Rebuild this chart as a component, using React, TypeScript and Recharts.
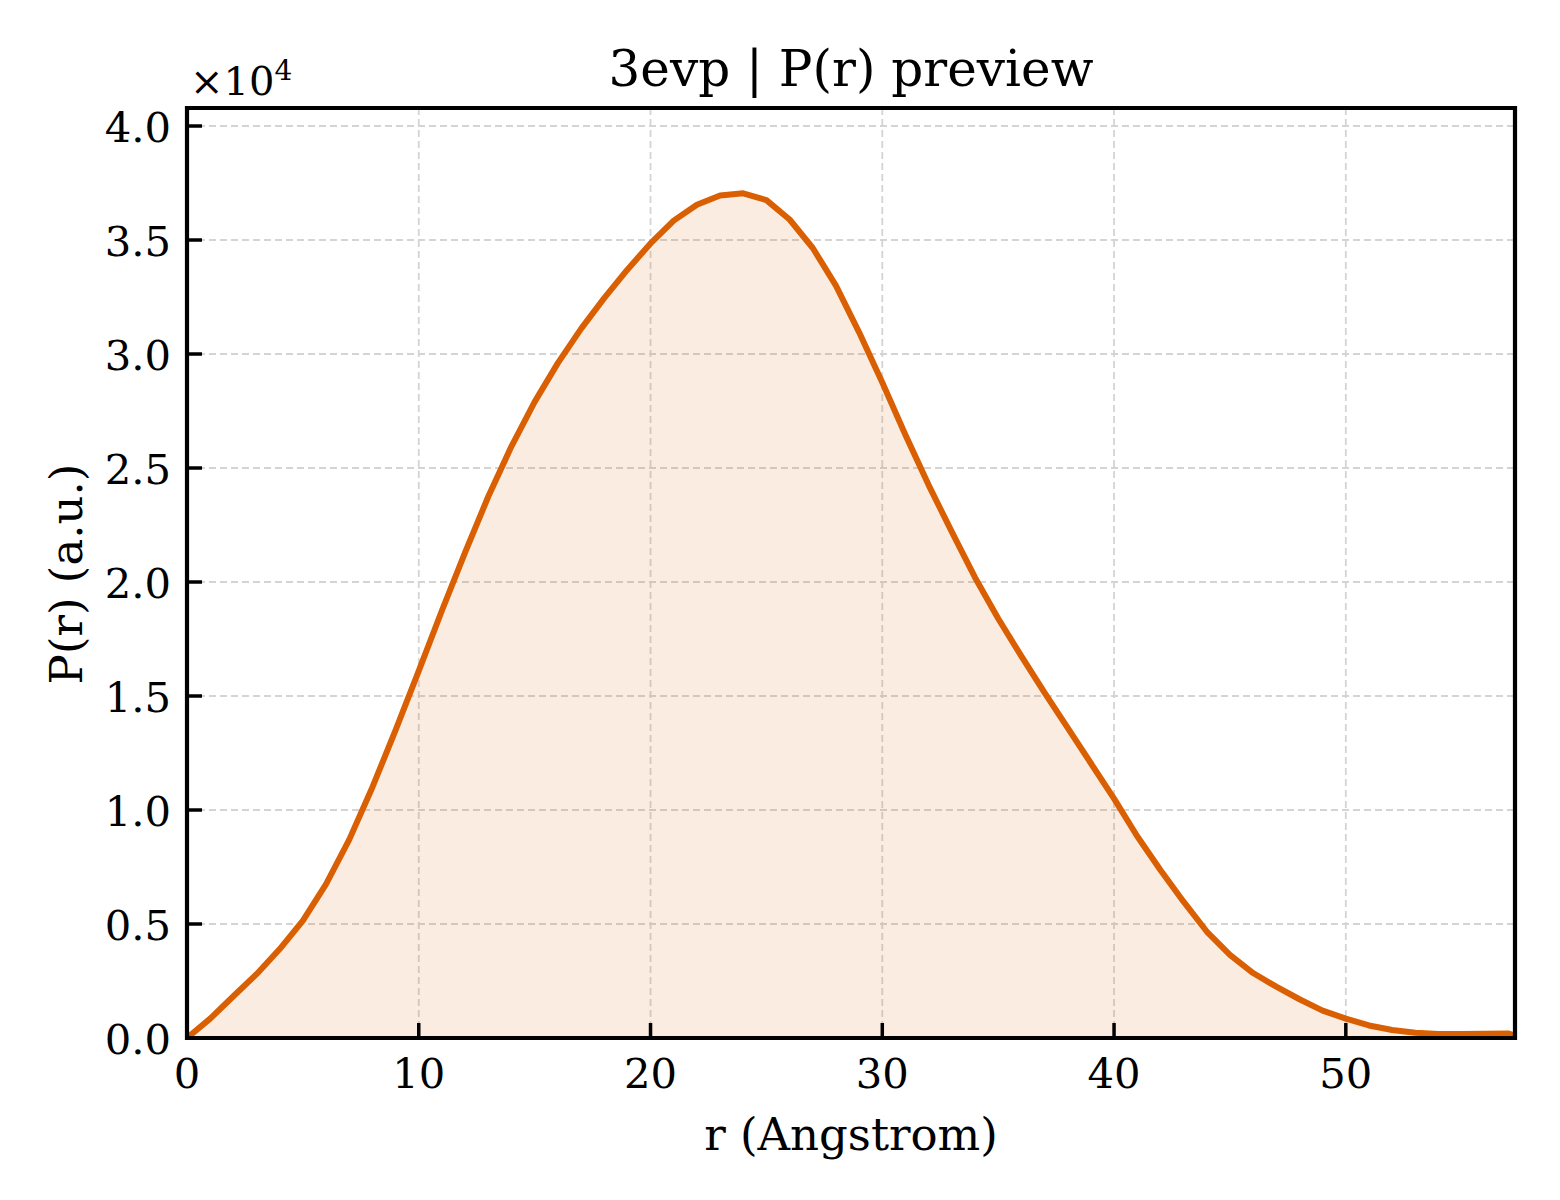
import React from 'react';
import {
  ComposedChart,
  Area,
  XAxis,
  YAxis,
  CartesianGrid,
  ReferenceArea,
} from 'recharts';

// r in Angstrom
const rValues = [
  0, 1, 2, 3, 4, 5, 6, 7, 8, 9, 10, 11, 12, 13, 14, 15, 16, 17, 18, 19, 20,
  21, 22, 23, 24, 25, 26, 27, 28, 29, 30, 31, 32, 33, 34, 35, 36, 37, 38, 39,
  40, 41, 42, 43, 44, 45, 46, 47, 48, 49, 50, 51, 52, 53, 54, 55, 56, 57, 57.3,
];

// P(r), arbitrary units
const pValues = [
  0, 850, 1830, 2800, 3900, 5150, 6750, 8700, 11000, 13500, 16100, 18750,
  21300, 23750, 25950, 27900, 29600, 31100, 32450, 33700, 34850, 35850, 36550,
  36950, 37050, 36750, 35900, 34650, 33000, 30950, 28750, 26450, 24250, 22200,
  20200, 18400, 16750, 15150, 13600, 12050, 10500, 8850, 7370, 5980, 4670,
  3650, 2850, 2250, 1700, 1200, 850, 550, 350, 230, 180, 170, 190, 200, 100,
];

const xTicks = [0, 10, 20, 30, 40, 50];
const yTicks = [0, 5000, 10000, 15000, 20000, 25000, 30000, 35000, 40000];

const X_MAX = 57.3;
const Y_MAX = 40790;

const FONT = "'DejaVu Serif', 'Liberation Serif', serif";
const ORANGE = '#D95F02';

const data = rValues.map((r, i) => ({ r, p: pValues[i] }));

// ticks point inward, matplotlib style
const XTick = (props: any) => {
  const { x, y, payload } = props;
  return (
    <g>
      <line x1={x} y1={y} x2={x} y2={y - 15} stroke="#000" strokeWidth={3.5} />
      <text x={x} y={y + 50} textAnchor="middle" fontFamily={FONT} fontSize={41.7} fill="#000">
        {payload.value}
      </text>
    </g>
  );
};

const YTick = (props: any) => {
  const { x, y, payload } = props;
  return (
    <g>
      <line x1={x} y1={y} x2={x + 15} y2={y} stroke="#000" strokeWidth={3.5} />
      <text x={x - 16} y={y + 16} textAnchor="end" fontFamily={FONT} fontSize={41.7} fill="#000">
        {(payload.value / 10000).toFixed(1)}
      </text>
    </g>
  );
};

export default function App() {
  return (
    <div style={{ position: 'absolute', left: 0, top: 0, width: 1560, height: 1200, background: '#fff' }}>
      <ComposedChart
        width={1560}
        height={1200}
        data={data}
        margin={{ top: 108, right: 45, bottom: 102, left: 107 }}
      >
        <CartesianGrid stroke="#d4d4d4" strokeWidth={1.8} strokeDasharray="7 4" />
        <XAxis
          dataKey="r"
          type="number"
          domain={[0, X_MAX]}
          ticks={xTicks}
          interval={0}
          height={60}
          axisLine={false}
          tickLine={false}
          tickSize={0}
          tickMargin={0}
          tick={<XTick />}
        />
        <YAxis
          type="number"
          domain={[0, Y_MAX]}
          ticks={yTicks}
          interval={0}
          width={80}
          axisLine={false}
          tickLine={false}
          tickSize={0}
          tickMargin={0}
          tick={<YTick />}
        />
        <Area
          type="linear"
          dataKey="p"
          stroke={ORANGE}
          strokeWidth={6}
          strokeLinejoin="round"
          fill={ORANGE}
          fillOpacity={0.12}
          dot={false}
          activeDot={false}
          isAnimationActive={false}
        />
        <ReferenceArea
          x1={0}
          x2={X_MAX}
          y1={0}
          y2={Y_MAX}
          fill="none"
          stroke="#000"
          strokeWidth={4.2}
          ifOverflow="visible"
        />
      </ComposedChart>
      <svg
        width={1560}
        height={1200}
        style={{ position: 'absolute', left: 0, top: 0, pointerEvents: 'none' }}
      >
        <text x={851} y={86} textAnchor="middle" fontFamily={FONT} fontSize={50} fill="#000">
          3evp | P(r) preview
        </text>
        <text x={190} y={95} fontFamily={FONT} fontSize={40} fill="#000">
          ×10
          <tspan fontSize={28} dy={-15}>4</tspan>
        </text>
        <text x={851} y={1150} textAnchor="middle" fontFamily={FONT} fontSize={45} fill="#000">
          r (Angstrom)
        </text>
        <text
          x={0}
          y={0}
          transform="translate(82 574) rotate(-90)"
          textAnchor="middle"
          fontFamily={FONT}
          fontSize={45}
          fill="#000"
        >
          P(r) (a.u.)
        </text>
      </svg>
    </div>
  );
}
